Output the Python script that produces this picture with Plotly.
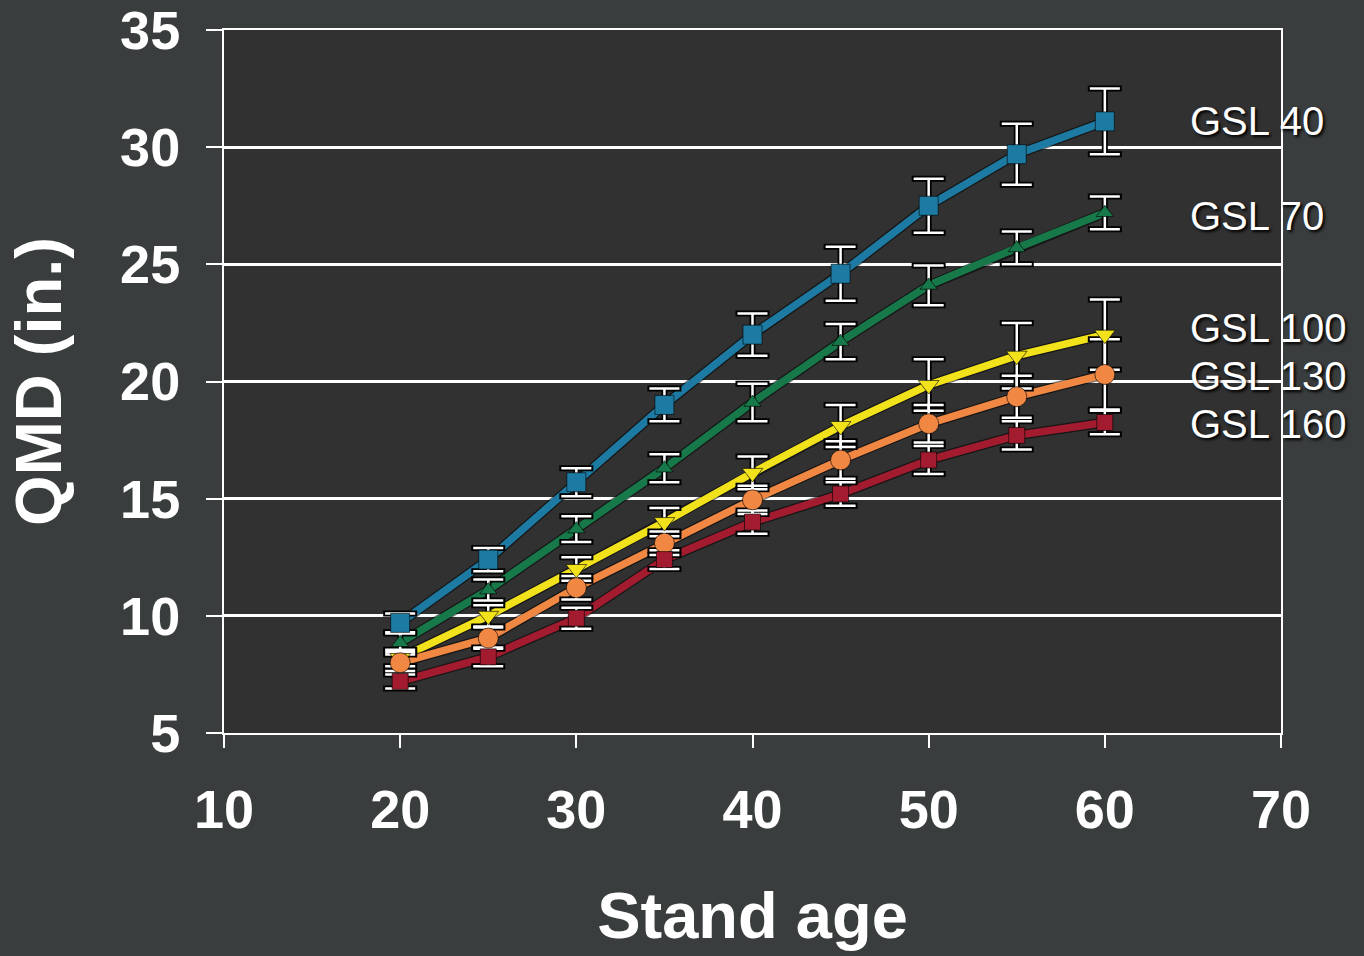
import plotly.graph_objects as go

# Stand age (years)
ages = [20, 25, 30, 35, 40, 45, 50, 55, 60]

# Mean quadratic mean diameter (in.) by growing stock level
gsl40 = [9.7, 12.4, 15.7, 19.0, 22.0, 24.6, 27.5, 29.7, 31.1]
gsl70 = [8.85, 11.1, 13.7, 16.3, 19.1, 21.7, 24.1, 25.7, 27.2]
gsl100 = [8.2, 10.0, 12.0, 14.0, 16.1, 18.1, 19.85, 21.1, 22.0]
gsl130 = [8.0, 9.05, 11.2, 13.1, 14.95, 16.65, 18.2, 19.35, 20.3]
gsl160 = [7.2, 8.25, 9.9, 12.4, 14.0, 15.2, 16.65, 17.7, 18.25]

# Error bar half-widths (in.)
err40 = [0.4, 0.5, 0.6, 0.7, 0.9, 1.15, 1.15, 1.3, 1.4]
err70 = [0.4, 0.45, 0.55, 0.6, 0.8, 0.75, 0.85, 0.7, 0.7]
err100 = [0.35, 0.45, 0.5, 0.6, 0.7, 0.9, 1.1, 1.4, 1.5]
err130 = [0.35, 0.45, 0.5, 0.5, 0.6, 0.8, 0.8, 0.9, 1.5]
err160 = [0.3, 0.4, 0.45, 0.4, 0.5, 0.5, 0.6, 0.6, 0.5]

series_names = ["GSL 40", "GSL 70", "GSL 100", "GSL 130", "GSL 160"]
x_ticks = [10, 20, 30, 40, 50, 60, 70]
y_ticks = [5, 10, 15, 20, 25, 30, 35]

series = [
    (series_names[0], gsl40, err40, "#1d7ba3", "square", 19),
    (series_names[1], gsl70, err70, "#17784a", "triangle-up", 15),
    (series_names[2], gsl100, err100, "#f2e21c", "triangle-down", 18),
    (series_names[3], gsl130, err130, "#f08844", "circle", 20),
    (series_names[4], gsl160, err160, "#a31b2e", "square", 16),
]
# vertical placement of the right-hand series labels
label_y = [31.1, 27.05, 22.3, 20.25, 18.2]

FONT = "Liberation Sans, Arial, sans-serif"
PAPER = "#3a3d3d"
PLOT_BG = "#313131"

fig = go.Figure()

# connecting lines, dark edge underneath the coloured stroke
for name, y, e, color, sym, sz in series:
    fig.add_trace(go.Scatter(x=ages, y=y, mode="lines",
                             line=dict(color="rgba(0,0,0,0.55)", width=10),
                             hoverinfo="skip", showlegend=False))
    fig.add_trace(go.Scatter(x=ages, y=y, mode="lines", name=name,
                             line=dict(color=color, width=7.5),
                             showlegend=False))

# error bars: black halo then white bar
for name, y, e, color, sym, sz in series:
    fig.add_trace(go.Scatter(x=ages, y=y, mode="markers",
                             marker=dict(size=1, opacity=0),
                             error_y=dict(type="data", array=e, visible=True,
                                          color="black", thickness=6, width=17),
                             hoverinfo="skip", showlegend=False))
for name, y, e, color, sym, sz in series:
    fig.add_trace(go.Scatter(x=ages, y=y, mode="markers",
                             marker=dict(size=1, opacity=0),
                             error_y=dict(type="data", array=e, visible=True,
                                          color="white", thickness=2.5, width=15),
                             hoverinfo="skip", showlegend=False))

# markers on top
for name, y, e, color, sym, sz in series:
    fig.add_trace(go.Scatter(x=ages, y=y, mode="markers", name=name,
                             marker=dict(symbol=sym, size=sz, color=color,
                                         line=dict(color="rgba(0,0,0,0.6)", width=1)),
                             showlegend=False))

for (name, *_), ly in zip(series, label_y):
    fig.add_annotation(x=64.7, y=ly, xref="x", yref="y", text=name,
                       showarrow=False, xanchor="left", yanchor="middle",
                       font=dict(family=FONT, size=40, color="white",
                                 shadow="2px 2px 3px black"))

axis_common = dict(
    showline=True, linecolor="white", linewidth=2, mirror=True,
    ticks="outside", tickcolor="white", tickwidth=2,
    tickfont=dict(family=FONT, size=54, color="white", weight="bold"),
    ticklabeloverflow="allow", automargin=False,
    zeroline=False,
)

fig.update_xaxes(range=[10, 70], tickvals=x_ticks, ticklen=13,
                 showgrid=False, ticklabelstandoff=15,
                 title=dict(text="Stand age", standoff=55,
                            font=dict(family=FONT, size=65, color="white",
                                      weight="bold")),
                 **axis_common)
fig.update_yaxes(range=[5, 35], tickvals=y_ticks, ticklen=16,
                 showgrid=True, gridcolor="white", gridwidth=2.5,
                 ticklabelstandoff=15,
                 title=dict(text="QMD (in.)", standoff=37,
                            font=dict(family=FONT, size=65, color="white",
                                      weight="bold")),
                 **axis_common)

fig.update_layout(
    width=1364, height=956,
    margin=dict(l=224, r=83, t=30, b=223),
    paper_bgcolor=PAPER, plot_bgcolor=PLOT_BG,
    showlegend=False,
)

fig.write_html("out.html")
